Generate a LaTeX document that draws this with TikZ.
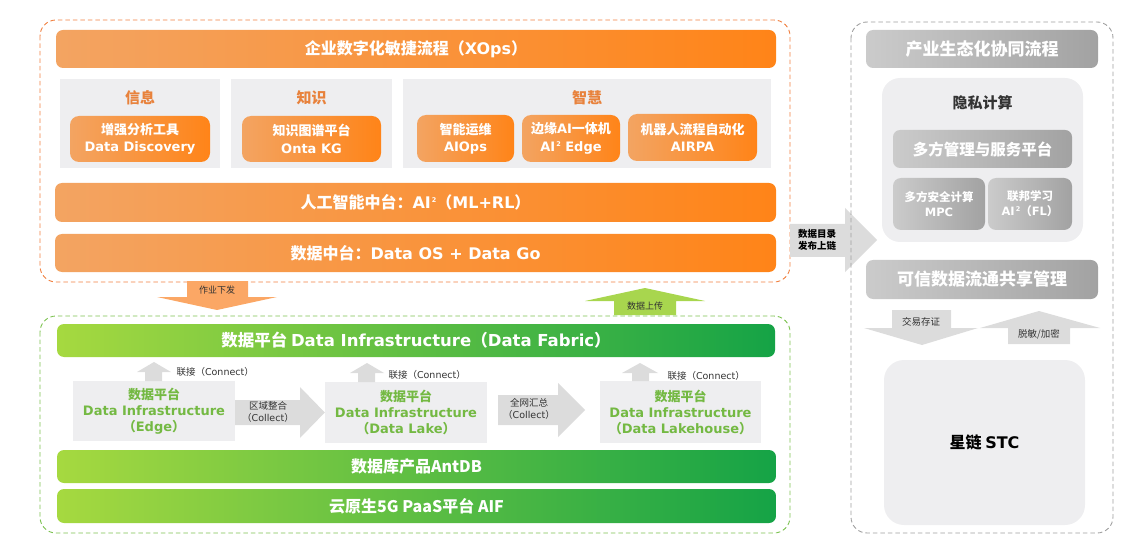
\documentclass[tikz,border=0pt]{standalone}
\usepackage{fontspec}
\setmainfont{Noto Sans CJK SC}
\newfontfamily\latin{DejaVu Sans}
\newcommand\en[1]{{\latin #1}}
\newcommand\sqr{\raisebox{0.75ex}{\fontsize{6.5}{6.5}\selectfont\,2}}
\usetikzlibrary{positioning,calc}

\definecolor{orgL}{HTML}{F3A462}
\definecolor{orgR}{HTML}{FF8418}
\definecolor{otitle}{HTML}{E8823C}
\definecolor{panel}{HTML}{EEEEF0}
\definecolor{grnL}{HTML}{A6D940}
\definecolor{grnR}{HTML}{15A346}
\definecolor{grnT}{HTML}{74B943}
\definecolor{gryL}{HTML}{CBCBCB}
\definecolor{gryR}{HTML}{A2A2A2}
\definecolor{odash}{HTML}{F08040}
\definecolor{gdash}{HTML}{7CC250}
\definecolor{ydash}{HTML}{A0A0A0}
\definecolor{oarr}{HTML}{FBA765}
\definecolor{garr}{HTML}{A8D64E}
\definecolor{blkarr}{HTML}{DCDCDC}

\begin{document}
\begin{tikzpicture}[
  x=1pt, y=-1pt,
  bar/.style={rounded corners=7pt, inner sep=0pt, text=white, align=center,
              font=\fontsize{16}{18}\selectfont\bfseries},
  obar/.style={bar, left color=orgL, right color=orgR},
  gbar/.style={bar, left color=grnL, right color=grnR},
  ybar/.style={bar, left color=gryL, right color=gryR, font=\fontsize{17}{19}\selectfont\bfseries},
  panelbox/.style={fill=panel, inner sep=0pt},
  ptitle/.style={text=otitle, font=\fontsize{15}{17}\selectfont\bfseries},
  obox/.style={obar, rounded corners=9pt, font=\fontsize{13}{17.5}\selectfont\bfseries},
  gbox/.style={panelbox, text=grnT, align=center, font=\fontsize{13}{16}\selectfont\bfseries},
  ybox/.style={ybar, rounded corners=8pt, font=\fontsize{11.5}{15}\selectfont\bfseries},
  frame/.style={dashed, rounded corners=16pt, line width=0.9pt, dash pattern=on 4.5pt off 3pt},
  lbl/.style={font=\fontsize{9.5}{12}\selectfont, text=black!80, align=center},
  blk/.style={fill=blkarr, draw=none},
]
\useasboundingbox (0,0) rectangle (1137,553);

%% ---------- enterprise block (orange) ----------
\draw[frame, odash] (40,20) rectangle (790,282);
\node[obar, minimum width=720pt, minimum height=38pt] (xops) at (416,49)
  {企业数字化敏捷流程（\en{XOps}）};

\node[panelbox, minimum width=160pt, minimum height=89pt] (info) at (140,123.5) {};
\node[panelbox, minimum width=161pt, minimum height=89pt] (know) at (311.5,123.5) {};
\node[panelbox, minimum width=368pt, minimum height=89pt] (wise) at (587,123.5) {};
\node[ptitle] (infot) at (140,98) {信息};
\node[ptitle] (knowt) at (311.5,98) {知识};
\node[ptitle] (wiset) at (587,98) {智慧};

\node[obox, minimum width=140pt, minimum height=46pt] (disc) at (140,139)
  {增强分析工具\\\en{Data Discovery}};
\node[obox, minimum width=139pt, minimum height=46pt] (onta) at (311.5,139)
  {知识图谱平台\\\en{Onta KG}};
\node[obox, minimum width=97pt, minimum height=47pt] (aiops) at (465.5,138.5)
  {智能运维\\\en{AIOps}};
\node[obox, minimum width=98pt, minimum height=47pt] (edge) at (571,138.5)
  {边缘\en{AI}一体机\\\en{AI\sqr\ Edge}};
\node[obox, minimum width=129pt, minimum height=47pt] (airpa) at (692.5,137.5)
  {机器人流程自动化\\\en{AIRPA}};

\node[obar, minimum width=721pt, minimum height=39pt] (aimid) at (415.5,202.5)
  {人工智能中台：\en{AI\sqr}（\en{ML+RL}）};
\node[obar, minimum width=721pt, minimum height=38pt] (datamid) at (415.5,253)
  {数据中台：\en{Data OS + Data Go}};

%% ---------- up / down between the two blocks ----------
\fill[oarr] (187,281) -- (248,281) -- (248,297) -- (277,297) -- (217,310)
  -- (157,297) -- (187,297) -- cycle;
\node[lbl, font=\fontsize{9}{11}\selectfont] (jobdown) at (217,290) {作业下发};
\fill[garr] (614,315) -- (614,301) -- (585,301) -- (645,288) -- (705,301)
  -- (676,301) -- (676,315) -- cycle;
\node[lbl, font=\fontsize{9}{11}\selectfont] (dataup) at (645,306) {数据上传};

%% ---------- data platform block (green) ----------
\draw[frame, gdash] (40,316) rectangle (790,533);
\node[gbar, minimum width=718pt, minimum height=33pt, font=\fontsize{16.5}{18}\selectfont\bfseries] (fabric) at (416,340.5)
  {数据平台 \en{Data Infrastructure}（\en{Data Fabric}）};

\node[gbox, minimum width=162pt, minimum height=60pt] (edgeinf) at (154,411)
  {数据平台\\\en{Data Infrastructure}\\（\en{Edge}）};
\node[gbox, minimum width=162pt, minimum height=61pt] (lakeinf) at (406,412.5)
  {数据平台\\\en{Data Infrastructure}\\（\en{Data Lake}）};
\node[gbox, minimum width=161pt, minimum height=62pt] (houseinf) at (680.5,412)
  {数据平台\\\en{Data Infrastructure}\\（\en{Data Lakehouse}）};

%% small "connect" arrows up to the fabric bar
\fill[blk] (145,381) -- (145,372) -- (137,372) -- (154,362) -- (171,372) -- (162,372) -- (162,381) -- cycle;
\node[lbl, anchor=west] (con1) at (173,372) {联接（\en{Connect}）};
\fill[blk] (358,382) -- (358,373) -- (350,373) -- (367,363) -- (384,373) -- (375,373) -- (375,382) -- cycle;
\node[lbl, anchor=west] (con2) at (385,375) {联接（\en{Connect}）};
\fill[blk] (632,381) -- (632,373) -- (622,373) -- (640,363) -- (658,373) -- (649,373) -- (649,381) -- cycle;
\node[lbl, anchor=west] (con3) at (664,376) {联接（\en{Connect}）};

%% collect arrows between the three platforms
\fill[blk] (edgeinf.east |- 0,400) -- (300,400) -- (300,387) -- (lakeinf.west |- 0,412.5)
  -- (300,438) -- (300,425) -- (edgeinf.east |- 0,425) -- cycle;
\node[lbl] (coll1) at (268,412) {区域整合\\（\en{Collect}）};
\fill[blk] (498,395) -- (558,395) -- (558,383) -- (585,410) -- (558,437) -- (558,425) -- (498,425) -- cycle;
\node[lbl] (coll2) at (529,409) {全网汇总\\（\en{Collect}）};

\node[gbar, minimum width=719pt, minimum height=33pt] (antdb) at (416.5,466.5) {数据库产品AntDB};
\node[gbar, minimum width=719pt, minimum height=34pt] (aif) at (416.5,506) {云原生5G PaaS平台 AIF};

%% ---------- publish to chain ----------
\fill[blk] (790,224) -- (845,224) -- (845,208) -- (877,240) -- (845,272) -- (845,257) -- (790,257) -- cycle;
\node[font=\fontsize{9.5}{12}\selectfont\bfseries, align=center] (publish) at (817,240) {数据目录\\发布上链};

%% ---------- ecosystem block (grey) ----------
\draw[frame, ydash] (851,22) rectangle (1113,533);
\node[ybar, minimum width=232pt, minimum height=38pt] (eco) at (982,49) {产业生态化协同流程};
\node[fill=panel, rounded corners=18pt, minimum width=201pt, minimum height=164pt] (priv) at (982.5,160) {};
\node[font=\fontsize{15}{17}\selectfont\bfseries, text=black!80] (privt) at (982.5,103) {隐私计算};
\node[ybar, minimum width=179pt, minimum height=38pt, font=\fontsize{15.5}{17}\selectfont\bfseries] (mgmt) at (982.5,149) {多方管理与服务平台};
\node[ybox, minimum width=92pt, minimum height=52pt] (mpc) at (939,204) {多方安全计算\\\en{MPC}};
\node[ybox, minimum width=84pt, minimum height=52pt] (fl) at (1030,204) {联邦学习\\\en{AI\sqr}（\en{FL}）};

\node[ybar, minimum width=232pt, minimum height=39pt] (trust) at (982,279.5) {可信数据流通共享管理};
\fill[blk] (892,310) -- (951,310) -- (951,328) -- (978,328) -- (922,345) -- (864,328) -- (892,328) -- cycle;
\node[lbl] (deal) at (921,322) {交易存证};
\fill[blk] (1008,344) -- (1008,328) -- (980,328) -- (1039,311) -- (1100,328) -- (1070,328) -- (1070,344) -- cycle;
\node[lbl] (mask) at (1039,334) {脱敏/加密};

\node[fill=panel, rounded corners=20pt, minimum width=201pt, minimum height=165pt,
      font=\fontsize{16}{18}\selectfont\bfseries] (stc) at (984.5,442.5) {星链 \en{STC}};

\end{tikzpicture}
\end{document}
